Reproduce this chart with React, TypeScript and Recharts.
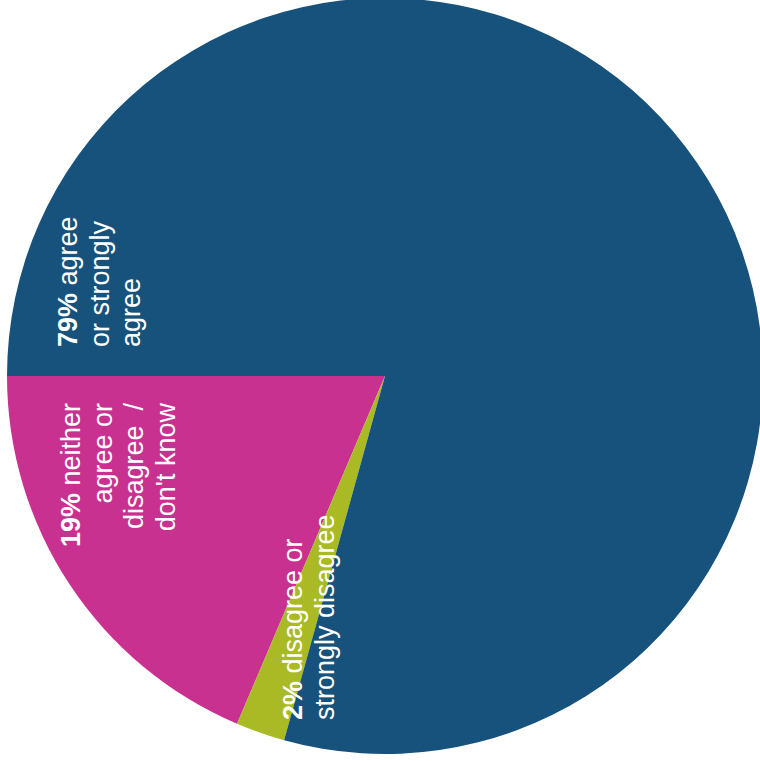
import React from "react";
import { PieChart, Pie, Cell } from "recharts";

const CATEGORIES = ["neither agree or disagree / don't know", "disagree or strongly disagree", "agree or strongly agree"];
const VALUES = [18.6, 2.1, 79.3];
const PERCENT_LABELS = ["19%", "2%", "79%"];
const LABEL_LINES = [
  ["neither", "agree or", "disagree  /", "don't know"],
  ["disagree or", "strongly disagree"],
  ["agree", "or strongly", "agree"],
];

const COLORS = ["#c8318f", "#a9ba24", "#16527c"];
const WIDTH = 760;
const HEIGHT = 761;
const CX = 385;
const CY = 376;
const RADIUS = 378;
const FONT = "'Liberation Sans', Arial, Helvetica, sans-serif";
const FONT_SIZE = 27;
const LINE_HEIGHT = 31.5;

// Where each rotated label block sits (first baseline x, anchor y) and how it is anchored.
const LABEL_LAYOUT: { x: number; y: number; anchor: "start" | "end" }[] = [
  { x: 80, y: 403, anchor: "end" },
  { x: 302, y: 720, anchor: "start" },
  { x: 77, y: 347, anchor: "start" },
];

const data = CATEGORIES.map((name, i) => ({ name, value: VALUES[i] }));

function renderLabel(props: { index?: number }) {
  const i = props.index ?? 0;
  const layout = LABEL_LAYOUT[i];
  const lines = LABEL_LINES[i];
  return (
    <text
      key={`label-${i}`}
      transform={`translate(${layout.x},${layout.y}) rotate(-90)`}
      textAnchor={layout.anchor}
      fill="#ffffff"
      fontFamily={FONT}
      fontSize={FONT_SIZE}
      style={{ whiteSpace: "pre" }}
    >
      {lines.map((line, j) => (
        <tspan key={j} x={0} dy={j === 0 ? 0 : LINE_HEIGHT}>
          {j === 0 && <tspan fontWeight="bold">{PERCENT_LABELS[i]}</tspan>}
          {j === 0 ? ` ${line}` : line}
        </tspan>
      ))}
    </text>
  );
}

export default function App() {
  return (
    <div style={{ position: "absolute", left: 0, top: 0, width: WIDTH, height: HEIGHT, background: "#ffffff" }}>
      <PieChart width={WIDTH} height={HEIGHT} margin={{ top: 0, right: 0, bottom: 0, left: 0 }}>
        <Pie
          data={data}
          dataKey="value"
          nameKey="name"
          cx={CX}
          cy={CY}
          outerRadius={RADIUS}
          startAngle={180}
          endAngle={540}
          stroke="none"
          labelLine={false}
          label={renderLabel}
          isAnimationActive={false}
        >
          {data.map((d, i) => (
            <Cell key={d.name} fill={COLORS[i]} />
          ))}
        </Pie>
      </PieChart>
    </div>
  );
}
